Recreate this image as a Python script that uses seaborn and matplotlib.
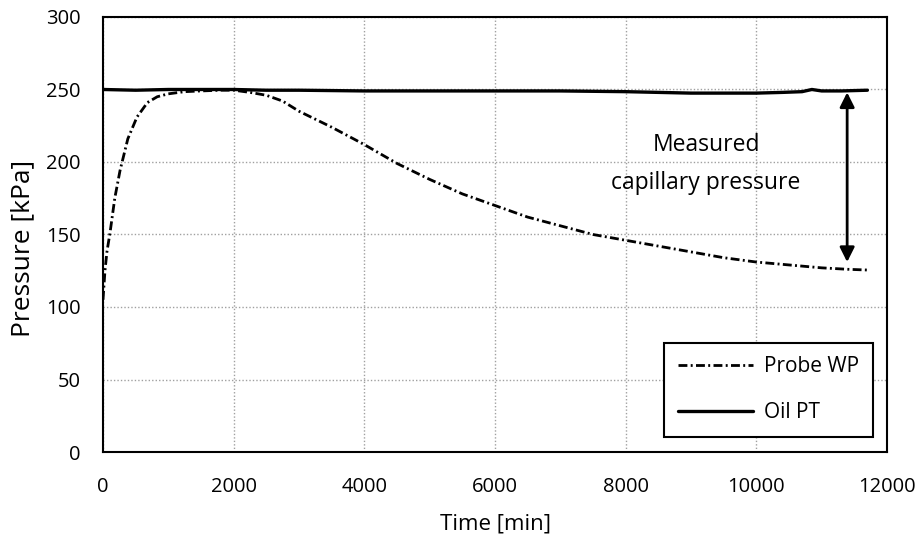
import numpy as np
import pandas as pd
import matplotlib
matplotlib.use('Agg')
import matplotlib.pyplot as plt
import seaborn as sns

# values
probe_time = [0, 30, 60, 110, 180, 260, 380, 520, 680, 830, 1000, 1250, 1500, 1800, 2000,
              2250, 2500, 2750, 3000, 3500, 4000, 4500, 5000, 5500, 6000, 6500, 7000,
              7500, 8000, 8500, 9000, 9500, 10000, 10500, 11000, 11400, 11700]
probe_wp = [105, 125, 138, 152, 175, 194, 216, 231, 241, 245, 247, 248.5, 249, 249.5, 249.5,
            248, 246, 242, 235, 224, 212, 199, 188, 178, 170, 162, 156,
            150, 146, 142, 138, 134, 131, 129, 127, 126, 125.5]

oil_time = [0, 500, 1000, 1500, 2000, 2500, 3000, 4000, 5000, 6000, 7000, 8000, 8500,
            9000, 9500, 10000, 10400, 10700, 10850, 11000, 11300, 11700]
oil_pt = [250, 249.5, 250, 250, 250, 249.5, 249.5, 249, 249, 249, 249, 248.5, 248,
          247.5, 247.5, 247.5, 248, 248.5, 250, 249, 249, 249.5]

sns.set_theme(style='white')
plt.rcParams['font.family'] = ['Open Sans', 'DejaVu Sans']
plt.rcParams['text.color'] = 'black'

fig = plt.figure(figsize=(9.23, 5.41), dpi=100)
ax = fig.add_axes([0.1116, 0.1645, 0.8494, 0.8041])

df_probe = pd.DataFrame({'t': probe_time, 'p': probe_wp})
df_oil = pd.DataFrame({'t': oil_time, 'p': oil_pt})

sns.lineplot(data=df_probe, x='t', y='p', ax=ax, color='black', lw=2,
             linestyle=(0, (3.2, 1.2, 0.7, 1.2)), label='Probe WP')
sns.lineplot(data=df_oil, x='t', y='p', ax=ax, color='black', lw=2.4,
             label='Oil PT')

ax.set_xlim(0, 12000)
ax.set_ylim(0, 300)
ax.set_xticks(np.arange(0, 12001, 2000))
ax.set_yticks(np.arange(0, 301, 50))
ax.grid(True, color='#a0a0a0', linestyle=(0, (1, 1.5)), lw=1)
for s in ax.spines.values():
    s.set_color('black')
    s.set_linewidth(1.5)
ax.tick_params(labelsize=14.5, length=0, colors='black')
ax.tick_params(axis='y', pad=16)
ax.tick_params(axis='x', pad=18)
ax.set_xlabel('Time [min]', fontsize=16, color='black', va='center', ha='center')
ax.set_ylabel('Pressure [kPa]', fontsize=19, color='black', va='center', ha='center')
ax.xaxis.set_label_coords(0.5, -0.165)
ax.yaxis.set_label_coords(-0.103, 0.467)

# double arrow showing the capillary pressure
ax.annotate('', xy=(11390, 131), xytext=(11390, 248),
            arrowprops=dict(arrowstyle='<|-|>', color='black', lw=2, mutation_scale=22,
                            shrinkA=0, shrinkB=0))
ax.text(9230, 198.5, 'Measured\ncapillary pressure', fontsize=16.5, ha='center', va='center',
        linespacing=1.8)

leg = ax.legend(loc='lower right', bbox_to_anchor=(0.982, 0.035), borderaxespad=0,
                fontsize=15, frameon=True, fancybox=False, edgecolor='black',
                handlelength=3.6, borderpad=0.65, labelspacing=1.2, handletextpad=0.55,
                framealpha=1)
leg.get_frame().set_linewidth(1.5)

fig.savefig('out.png', dpi=100)
